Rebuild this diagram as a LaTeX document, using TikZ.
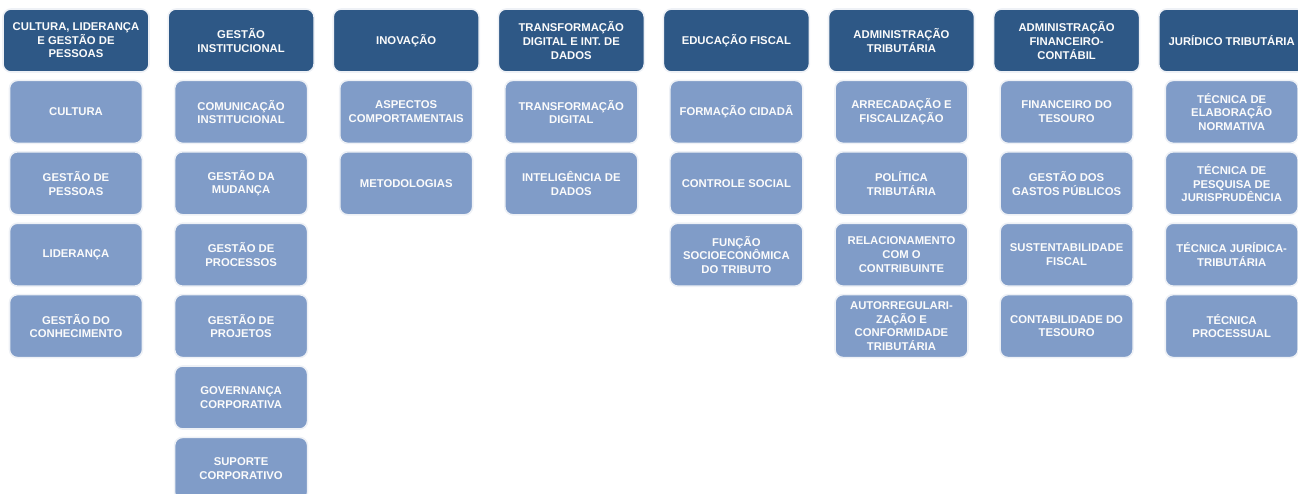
\documentclass[tikz,border=0pt]{standalone}
\usepackage{fontspec}
\setmainfont{Liberation Sans}
\usepackage{tikz}
\usetikzlibrary{positioning}

\definecolor{headblue}{RGB}{46,88,134}
\definecolor{leafblue}{RGB}{128,156,200}
\definecolor{halo}{RGB}{238,241,246}

\tikzset{
    box/.style={rounded corners=8pt, draw=halo, line width=1.6pt, align=center,
        text=white!97!gray, inner sep=0pt,
        font=\fontsize{11.3}{13.6}\selectfont\bfseries},
    head/.style={box, fill=headblue, minimum width=146pt, minimum height=63pt},
    leaf/.style={box, fill=leafblue, minimum width=133pt, minimum height=63pt, below=6.8pt of #1}
}

\begin{document}
\begin{tikzpicture}[x=1pt,y=1pt]
                \useasboundingbox (0,0) rectangle (1298,-493);
                \clip (0,0) rectangle (1298,-493);

                \node[head] (h1) at (76,-40.5) {CULTURA, LIDERANÇA\\E GESTÃO DE\\PESSOAS};
                \node[head] (h2) at (241.1,-40.5) {GESTÃO\\INSTITUCIONAL};
                \node[head] (h3) at (406.2,-40.5) {INOVAÇÃO};
                \node[head] (h4) at (571.3,-40.5) {TRANSFORMAÇÃO\\DIGITAL E INT. DE\\DADOS};
                \node[head] (h5) at (736.4,-40.5) {EDUCAÇÃO FISCAL};
                \node[head] (h6) at (901.5,-40.5) {ADMINISTRAÇÃO\\TRIBUTÁRIA};
                \node[head] (h7) at (1066.6,-40.5) {ADMINISTRAÇÃO\\FINANCEIRO-\\CONTÁBIL};
                \node[head] (h8) at (1231.7,-40.5) {JURÍDICO TRIBUTÁRIA};

                \node[leaf=h1] (c11) {CULTURA};
                \node[leaf=c11] (c12) {GESTÃO DE\\PESSOAS};
                \node[leaf=c12] (c13) {LIDERANÇA};
                \node[leaf=c13] (c14) {GESTÃO DO\\CONHECIMENTO};

                \node[leaf=h2] (c21) {COMUNICAÇÃO\\INSTITUCIONAL};
                \node[leaf=c21] (c22) {GESTÃO DA\\MUDANÇA};
                \node[leaf=c22] (c23) {GESTÃO DE\\PROCESSOS};
                \node[leaf=c23] (c24) {GESTÃO DE\\PROJETOS};
                \node[leaf=c24] (c25) {GOVERNANÇA\\CORPORATIVA};
                \node[leaf=c25] (c26) {SUPORTE\\CORPORATIVO};

                \node[leaf=h3] (c31) {ASPECTOS\\COMPORTAMENTAIS};
                \node[leaf=c31] (c32) {METODOLOGIAS};

                \node[leaf=h4] (c41) {TRANSFORMAÇÃO\\DIGITAL};
                \node[leaf=c41] (c42) {INTELIGÊNCIA DE\\DADOS};

                \node[leaf=h5] (c51) {FORMAÇÃO CIDADÃ};
                \node[leaf=c51] (c52) {CONTROLE SOCIAL};
                \node[leaf=c52] (c53) {FUNÇÃO\\SOCIOECONÔMICA\\DO TRIBUTO};

                \node[leaf=h6] (c61) {ARRECADAÇÃO E\\FISCALIZAÇÃO};
                \node[leaf=c61] (c62) {POLÍTICA\\TRIBUTÁRIA};
                \node[leaf=c62] (c63) {RELACIONAMENTO\\COM O\\CONTRIBUINTE};
                \node[leaf=c63] (c64) {AUTORREGULARI-\\ZAÇÃO E\\CONFORMIDADE\\TRIBUTÁRIA};

                \node[leaf=h7] (c71) {FINANCEIRO DO\\TESOURO};
                \node[leaf=c71] (c72) {GESTÃO DOS\\GASTOS PÚBLICOS};
                \node[leaf=c72] (c73) {SUSTENTABILIDADE\\FISCAL};
                \node[leaf=c73] (c74) {CONTABILIDADE DO\\TESOURO};

                \node[leaf=h8] (c81) {TÉCNICA DE\\ELABORAÇÃO\\NORMATIVA};
                \node[leaf=c81] (c82) {TÉCNICA DE\\PESQUISA DE\\JURISPRUDÊNCIA};
                \node[leaf=c82] (c83) {TÉCNICA JURÍDICA-\\TRIBUTÁRIA};
                \node[leaf=c83] (c84) {TÉCNICA\\PROCESSUAL};
            \end{tikzpicture}
\end{document}
